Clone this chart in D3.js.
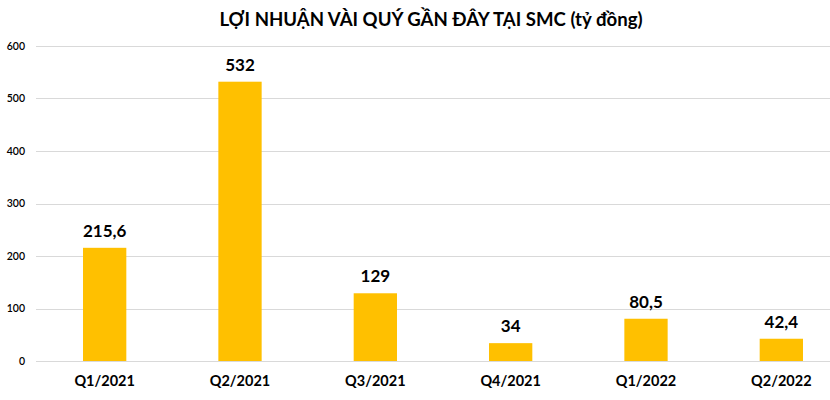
<!DOCTYPE html>
<html>
<head>
<meta charset="utf-8">
<script src="https://cdn.jsdelivr.net/npm/d3@7"></script>
<style>
  html, body { margin: 0; padding: 0; background: #fff; }
  svg { display: block; }
</style>
</head>
<body>
<svg id="chart" width="830" height="400"></svg>
<script>
const titleText = "LỢI NHUẬN VÀI QUÝ GẦN ĐÂY TẠI SMC (tỷ đồng)";
const categories = ["Q1/2021", "Q2/2021", "Q3/2021", "Q4/2021", "Q1/2022", "Q2/2022"];
const profits = [215.6, 532, 129, 34, 80.5, 42.4];
const valueLabels = ["215,6", "532", "129", "34", "80,5", "42,4"];
const yTicks = [0, 100, 200, 300, 400, 500, 600];

const svg = d3.select("#chart");
const font = "Lato, 'Open Sans', sans-serif";

const x = d3.scaleBand().domain(categories).range([37, 849]).paddingInner(0.68).paddingOuter(0.34);
const y = d3.scaleLinear().domain([0, 600]).range([361, 46]);

// Title
svg.append("text")
  .attr("x", 431).attr("y", 26)
  .attr("text-anchor", "middle")
  .attr("font-family", font).attr("font-weight", "bold").attr("font-size", 18.6)
  .attr("fill", "#000")
  .text(titleText);

// Grid
svg.append("g").selectAll("line").data(yTicks).join("line")
  .attr("x1", 36).attr("x2", 830)
  .attr("y1", d => Math.round(y(d)) + 0.5).attr("y2", d => Math.round(y(d)) + 0.5)
  .attr("stroke", "#d9d9d9").attr("stroke-width", 1);

// Y axis
const yAxis = d3.axisLeft(y).tickValues(yTicks).tickSize(0).tickPadding(0);
const gy = svg.append("g").attr("transform", "translate(25,0)").call(yAxis);
gy.select(".domain").remove();
gy.selectAll("text").attr("font-family", font).attr("font-weight", 600).attr("font-size", 10.5).attr("fill", "#000").attr("dy", "0.32em");

// Bars
svg.append("g").selectAll("rect").data(profits).join("rect")
  .attr("x", (d, i) => x(categories[i]))
  .attr("width", x.bandwidth())
  .attr("y", d => y(d))
  .attr("height", d => y(0) - y(d))
  .attr("fill", "#FFC000");

// Value labels
svg.append("g").selectAll("text").data(profits).join("text")
  .attr("x", (d, i) => x(categories[i]) + x.bandwidth() / 2)
  .attr("y", d => y(d) - 11)
  .attr("text-anchor", "middle")
  .attr("font-family", font).attr("font-weight", "bold").attr("font-size", 17)
  .attr("fill", "#000")
  .text((d, i) => valueLabels[i]);

// X axis
const xAxis = d3.axisBottom(x).tickSize(0).tickPadding(0);
const gx = svg.append("g").attr("transform", "translate(0,376)").call(xAxis);
gx.select(".domain").remove();
gx.selectAll("text").attr("font-family", font).attr("font-weight", "bold").attr("font-size", 14.5).attr("fill", "#000").attr("dy", "0.71em");
</script>
</body>
</html>
